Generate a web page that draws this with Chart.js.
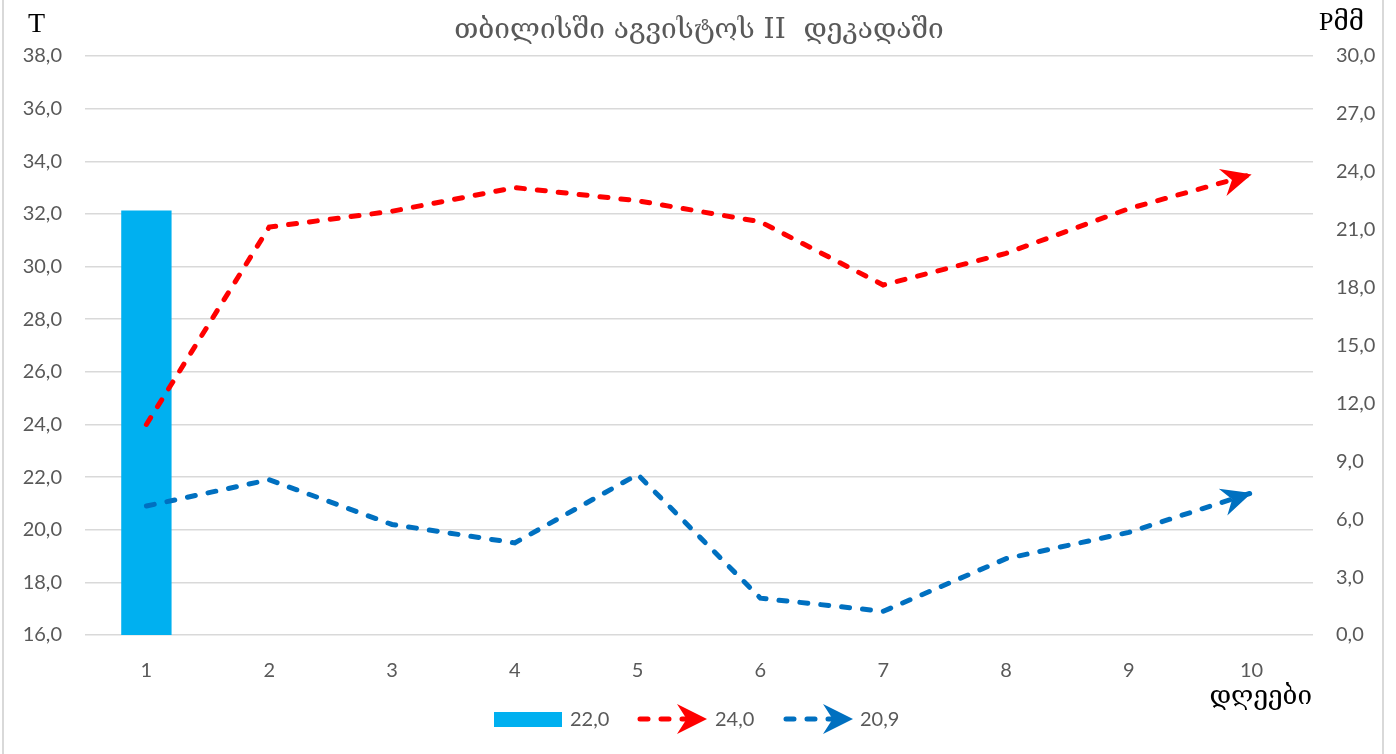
<!DOCTYPE html>
<html>
<head>
<meta charset="utf-8">
<script src="https://cdn.jsdelivr.net/npm/chart.js@4"></script>
<style>
  body { margin: 0; background: #fff; }
  #wrap { position: relative; width: 1396px; height: 754px; overflow: hidden; }
  #frame { position: absolute; left: 2px; top: -5px; width: 1378px; height: 770px;
           border-left: 2px solid #d9d9d9; border-right: 2px solid #d9d9d9; }
  canvas { position: absolute; left: 0; top: 0; }
</style>
</head>
<body>
<div id="wrap"><div id="frame"></div><canvas id="chart" width="1396" height="754"></canvas></div>
<script>
// data
const days = ["1", "2", "3", "4", "5", "6", "7", "8", "9", "10"];
const precip = [22.0, null, null, null, null, null, null, null, null, null];
const tMax = [24.0, 31.5, 32.1, 33.0, 32.5, 31.7, 29.3, 30.5, 32.2, 33.5];
const tMin = [20.9, 21.9, 20.2, 19.5, 22.1, 17.4, 16.9, 18.9, 19.9, 21.4];
const legendLabels = ["22,0", "24,0", "20,9"];

const titleText = "თბილისში აგვისტოს II  დეკადაში";
const xTitle = "დღეები";
const tickFont = { family: "Lato", size: 20 };
const grey = "#595959";

function fmt(v) { return v.toFixed(1).replace(".", ","); }

function arrowHead(ctx, x, y, ang, color, len, half) {
  ctx.save();
  ctx.translate(x, y);
  ctx.rotate(ang);
  ctx.fillStyle = color;
  ctx.beginPath();
  ctx.moveTo(0, 0);
  ctx.lineTo(-len, -half);
  ctx.lineTo(-len * 0.68, 0);
  ctx.lineTo(-len, half);
  ctx.closePath();
  ctx.fill();
  ctx.restore();
}

const extras = {
  id: "extras",
  afterDatasetsDraw(chart) {
    const ctx = chart.ctx;
    // arrow heads at the end of each line
    chart.data.datasets.forEach((ds, i) => {
      if (ds.type !== "line") return;
      const pts = chart.getDatasetMeta(i).data;
      const a = pts[pts.length - 2], b = pts[pts.length - 1];
      arrowHead(ctx, b.x, b.y, Math.atan2(b.y - a.y, b.x - a.x), ds.borderColor, 30, 14);
    });
  },
  afterDraw(chart) {
    const ctx = chart.ctx;
    ctx.save();
    // title
    ctx.fillStyle = grey;
    ctx.textAlign = "center";
    ctx.textBaseline = "alphabetic";
    ctx.font = "28px 'DejaVu Serif', 'DejaVu Sans'";
    ctx.fillText(titleText, 699, 38);
    // axis names
    ctx.fillStyle = "#000";
    ctx.font = "28px 'Liberation Serif', 'DejaVu Serif'";
    ctx.textAlign = "left";
    ctx.fillText("T", 28, 32);
    ctx.font = "26px 'Liberation Serif', 'DejaVu Serif'";
    ctx.fillText("Pმმ", 1319, 30);
    // x title
    ctx.fillStyle = "#000";
    ctx.font = "26px 'DejaVu Serif', 'DejaVu Sans'";
    ctx.textAlign = "right";
    ctx.fillText(xTitle, 1312, 704);

    // legend
    const ly = 719;
    const ds = chart.data.datasets;
    ctx.font = "20px Lato";
    ctx.textAlign = "left";
    ctx.textBaseline = "middle";
    ctx.fillStyle = ds[0].backgroundColor;
    ctx.fillRect(494, ly - 7, 68, 15);
    ctx.fillStyle = grey;
    ctx.fillText(legendLabels[0], 570, ly + 1);
    [[1, 637, 707, 715], [2, 783, 853, 860]].forEach(([k, x0, x1, tx]) => {
      ctx.save();
      ctx.strokeStyle = ds[k].borderColor;
      ctx.lineWidth = 5;
      ctx.lineCap = "round";
      ctx.setLineDash([8, 13]);
      ctx.beginPath();
      ctx.moveTo(x0 + 3, ly);
      ctx.lineTo(x1 - 12, ly);
      ctx.stroke();
      ctx.restore();
      arrowHead(ctx, x1, ly, 0, ds[k].borderColor, 30, 15);
      ctx.fillStyle = grey;
      ctx.fillText(legendLabels[k], tx, ly + 1);
    });
    ctx.restore();
  }
};

new Chart(document.getElementById("chart"), {
  data: {
    labels: days,
    datasets: [
      { type: "bar", label: legendLabels[0], data: precip, yAxisID: "y2",
        backgroundColor: "#00b0f0", barPercentage: 0.41, categoryPercentage: 1, order: 3 },
      { type: "line", label: legendLabels[1], data: tMax, yAxisID: "y",
        borderColor: "#ff0000", borderWidth: 5, borderDash: [8, 13], borderCapStyle: "round",
        pointRadius: 0, tension: 0, order: 1 },
      { type: "line", label: legendLabels[2], data: tMin, yAxisID: "y",
        borderColor: "#0070c0", borderWidth: 5, borderDash: [8, 13], borderCapStyle: "round",
        pointRadius: 0, tension: 0, order: 2 }
    ]
  },
  options: {
    responsive: false,
    animation: false,
    layout: { padding: { top: 56 } },
    plugins: { legend: { display: false }, tooltip: { enabled: false } },
    scales: {
      x: {
        offset: true,
        grid: { display: false },
        border: { display: false },
        ticks: { font: tickFont, color: grey, padding: 16 },
        afterFit: s => { s.height = 119; }
      },
      y: {
        position: "left", min: 16, max: 38,
        grid: { color: "#d9d9d9", lineWidth: 1.5, drawTicks: false },
        border: { display: false },
        ticks: { stepSize: 2, font: tickFont, color: grey, padding: 23, callback: v => fmt(v) },
        afterFit: s => { s.width = 85; }
      },
      y2: {
        position: "right", min: 0, max: 30,
        grid: { display: false, drawTicks: false },
        border: { display: false },
        ticks: { stepSize: 3, font: tickFont, color: grey, padding: 23, callback: v => fmt(v) },
        afterFit: s => { s.width = 83; }
      }
    }
  },
  plugins: [extras]
});
</script>
</body>
</html>
